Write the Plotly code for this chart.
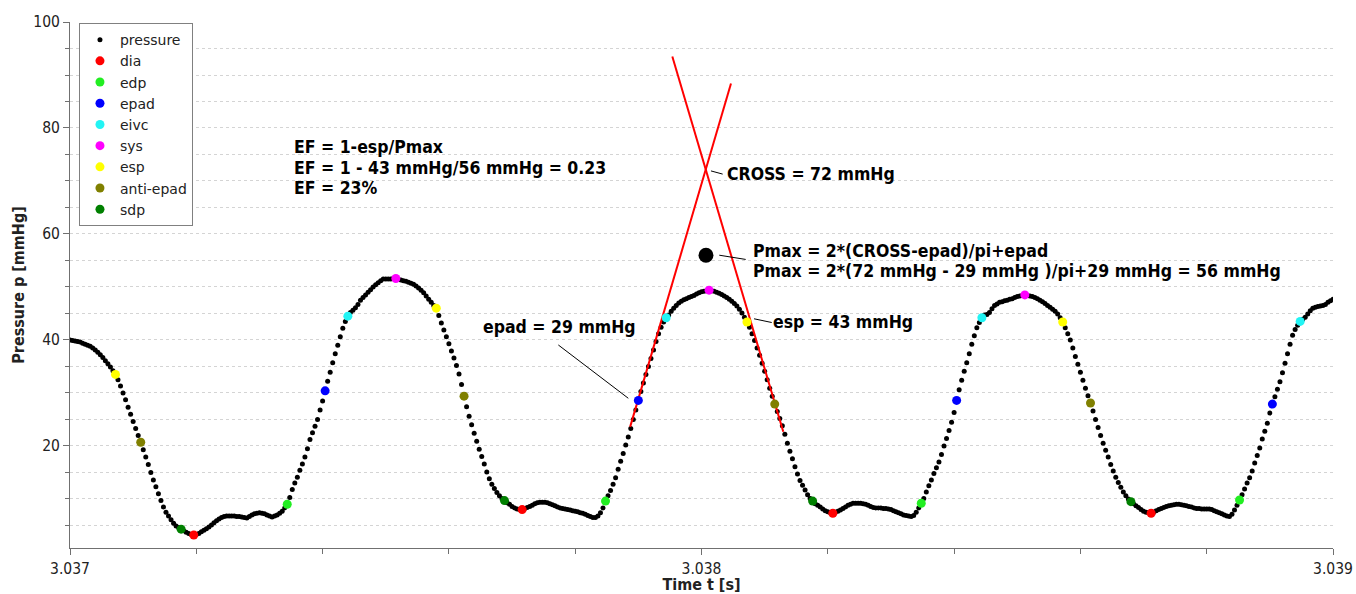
import numpy as np
import plotly.graph_objects as go

# ---------------- data ----------------
T0 = 3.037          # s, first sample
DT = 4e-6           # s, sampling interval

pressure = [
    40.0, 39.9, 39.8, 39.7, 39.6, 39.4, 39.2, 39.0, 38.8, 38.5,
    38.1, 37.7, 37.2, 36.7, 36.1, 35.5, 34.9, 34.2, 33.5, 32.5,
    31.3, 30.0, 28.7, 27.3, 26.0, 24.6, 23.3, 22.0, 20.7, 19.3,
    17.9, 16.5, 15.0, 13.6, 12.3, 11.0, 9.7, 8.5, 7.5, 6.8,
    6.1, 5.4, 4.9, 4.6, 4.3, 4.0, 3.7, 3.5, 3.3, 3.2,
    3.3, 3.5, 3.8, 4.1, 4.4, 4.7, 5.1, 5.5, 5.9, 6.2,
    6.5, 6.7, 6.8, 6.8, 6.8, 6.8, 6.7, 6.7, 6.6, 6.5,
    6.4, 6.7, 7.0, 7.2, 7.3, 7.4, 7.3, 7.2, 7.0, 6.8,
    6.6, 6.8, 7.0, 7.3, 7.7, 8.3, 9.0, 10.3, 11.8, 13.0,
    14.1, 15.4, 16.6, 17.9, 19.5, 21.2, 22.5, 23.7, 25.0, 26.8,
    28.5, 30.4, 32.2, 33.9, 35.7, 37.4, 39.0, 40.6, 42.2, 43.5,
    44.5, 45.2, 45.6, 46.1, 46.7, 47.5, 48.0, 48.5, 49.0, 49.5,
    50.0, 50.4, 50.8, 51.2, 51.5, 51.5, 51.5, 51.5, 51.6, 51.6,
    51.4, 51.3, 51.2, 51.1, 50.9, 50.7, 50.5, 50.2, 49.8, 49.4,
    48.9, 48.3, 47.7, 47.1, 46.5, 46.0, 44.6, 43.2, 41.9, 40.6,
    39.3, 37.9, 36.6, 35.2, 33.6, 31.6, 29.4, 27.4, 25.6, 24.0,
    22.4, 20.9, 19.4, 18.0, 16.6, 15.1, 13.8, 12.8, 12.0, 11.2,
    10.6, 10.1, 9.7, 9.3, 9.0, 8.6, 8.3, 8.1, 8.0, 8.0,
    8.2, 8.4, 8.6, 8.8, 9.1, 9.3, 9.4, 9.4, 9.4, 9.3,
    9.1, 8.9, 8.7, 8.5, 8.3, 8.2, 8.1, 8.0, 7.9, 7.8,
    7.7, 7.6, 7.4, 7.3, 7.1, 6.9, 6.7, 6.5, 6.5, 6.8,
    7.4, 8.3, 9.6, 10.6, 11.6, 12.8, 14.0, 15.6, 17.1, 18.6,
    20.2, 21.7, 23.3, 25.0, 26.8, 28.6, 30.3, 31.9, 33.5, 35.0,
    36.5, 38.1, 39.7, 41.2, 42.4, 43.4, 44.2, 44.7, 45.4, 46.0,
    46.5, 47.0, 47.3, 47.6, 47.8, 48.0, 48.2, 48.4, 48.7, 48.9,
    49.1, 49.2, 49.3, 49.4, 49.3, 49.2, 49.0, 48.8, 48.6, 48.3,
    48.0, 47.7, 47.3, 46.9, 46.4, 45.8, 45.1, 44.3, 43.4, 42.4,
    41.2, 39.9, 38.5, 37.1, 35.6, 34.1, 32.5, 30.9, 29.4, 27.9,
    26.5, 25.2, 23.8, 22.2, 20.5, 19.0, 17.6, 16.1, 14.7, 13.5,
    12.6, 11.7, 10.8, 10.1, 9.6, 9.1, 8.8, 8.5, 8.1, 7.8,
    7.6, 7.4, 7.3, 7.5, 7.7, 7.9, 8.2, 8.5, 8.8, 9.0,
    9.2, 9.2, 9.2, 9.2, 9.1, 9.0, 8.8, 8.6, 8.4, 8.3,
    8.3, 8.3, 8.2, 8.2, 8.1, 8.0, 7.8, 7.6, 7.4, 7.2,
    7.0, 6.9, 6.8, 6.7, 6.9, 7.5, 8.3, 9.2, 10.1, 11.3,
    12.5, 13.6, 14.8, 15.9, 17.0, 18.4, 20.0, 21.4, 22.9, 24.5,
    26.3, 28.6, 30.6, 32.4, 34.1, 35.7, 37.4, 39.2, 40.8, 42.3,
    43.3, 44.2, 44.7, 44.8, 45.2, 45.9, 46.5, 46.8, 47.1, 47.2,
    47.4, 47.5, 47.7, 47.8, 48.0, 48.2, 48.3, 48.4, 48.5, 48.4,
    48.3, 48.2, 48.0, 47.8, 47.5, 47.2, 46.9, 46.5, 46.2, 45.8,
    45.4, 44.9, 44.2, 43.4, 42.3, 41.2, 40.0, 38.5, 36.9, 35.4,
    33.9, 32.4, 30.9, 29.5, 28.1, 26.6, 25.0, 23.5, 22.0, 20.5,
    19.2, 17.9, 16.5, 15.3, 14.1, 13.1, 12.2, 11.3, 10.6, 10.0,
    9.5, 9.1, 8.7, 8.4, 8.0, 7.7, 7.5, 7.4, 7.3, 7.5,
    7.8, 8.0, 8.2, 8.4, 8.6, 8.7, 8.8, 8.9, 9.0, 9.0,
    8.9, 8.8, 8.7, 8.6, 8.5, 8.3, 8.2, 8.2, 8.1, 8.1,
    8.1, 8.1, 8.0, 7.8, 7.6, 7.4, 7.2, 7.0, 6.8, 6.7,
    7.1, 7.9, 8.8, 9.8, 10.8, 11.9, 13.0, 14.0, 15.3, 16.8,
    18.2, 19.6, 21.3, 22.8, 24.3, 26.2, 27.9, 29.3, 30.7, 32.1,
    33.8, 35.6, 37.4, 39.2, 40.9, 42.0, 42.8, 43.5, 43.9, 44.3,
    44.9, 45.5, 46.0, 46.2, 46.3, 46.4, 46.5, 46.7, 47.1, 47.4, 47.7,
]

# sample indices of the detected characteristic points
dia_idx = [49, 179, 302, 428]
edp_idx = [86, 212, 337, 463]
epad_idx = [101, 225, 351, 476]
eivc_idx = [110, 236, 361, 487]
sys_idx = [129, 253, 378]
esp_idx = [18, 145, 268, 393]
anti_epad_idx = [28, 156, 279, 404]
sdp_idx = [44, 172, 294, 420]

# tangent lines (through epad and anti-epad) and the computed Pmax point
tangent1_t = [3.0378870, 3.0380467]
tangent1_p = [23.6, 88.4]
tangent2_t = [3.0379538, 3.0381295]
tangent2_p = [93.5, 22.7]
pmax_t = [3.0380071]
pmax_p = [56.0]

x_ticks = [3.037, 3.038, 3.039]
y_ticks = [20, 40, 60, 80, 100]
y_major_grid = [20, 40, 60, 80]

# ---------------- figure ----------------
time = T0 + DT * np.arange(len(pressure))
p = np.array(pressure)

FONT = "DejaVu Sans Condensed, DejaVu Sans, sans-serif"
LEG_FONT = "DejaVu Sans, sans-serif"

fig = go.Figure()
fig.add_trace(go.Scatter(x=time, y=p, mode="markers", name="pressure",
                         marker=dict(color="black", size=5, line=dict(width=0))))
fig.add_trace(go.Scatter(x=tangent1_t, y=tangent1_p, mode="lines", showlegend=False,
                         line=dict(color="#ff0000", width=2)))
fig.add_trace(go.Scatter(x=tangent2_t, y=tangent2_p, mode="lines", showlegend=False,
                         line=dict(color="#ff0000", width=2)))

events = [
    ("dia", dia_idx, "#ff0000"),
    ("edp", edp_idx, "#22ee22"),
    ("epad", epad_idx, "#0000ff"),
    ("eivc", eivc_idx, "#22f4f4"),
    ("sys", sys_idx, "#ff00ff"),
    ("esp", esp_idx, "#ffff00"),
    ("anti-epad", anti_epad_idx, "#808000"),
    ("sdp", sdp_idx, "#008000"),
]
for name, idx, col in events:
    fig.add_trace(go.Scatter(x=time[idx], y=p[idx], mode="markers", name=name,
                             marker=dict(color=col, size=9, line=dict(width=0))))

fig.add_trace(go.Scatter(x=pmax_t, y=pmax_p, mode="markers", showlegend=False,
                         marker=dict(color="black", size=15)))

# annotations (text lines) and their leader lines
ann_font = dict(family=FONT, size=17.5, color="black")
texts = [
    ("EF = 1-esp/Pmax", 3.0373526, 76.5),
    ("EF = 1 - 43 mmHg/56 mmHg = 0.23", 3.0373526, 72.4),
    ("EF = 23%", 3.0373526, 68.6),
    ("CROSS = 72 mmHg", 3.0380388, 71.4),
    ("Pmax = 2*(CROSS-epad)/pi+epad", 3.0380792, 56.8),
    ("Pmax = 2*(72 mmHg - 29 mmHg )/pi+29 mmHg = 56 mmHg", 3.0380792, 53.0),
    ("esp = 43 mmHg", 3.0381116, 43.45),
    ("epad = 29 mmHg", 3.0376519, 42.45),
]
for txt, tx, ty in texts:
    fig.add_annotation(x=tx, y=ty, xref="x", yref="y", text="<b>" + txt + "</b>",
                       showarrow=False, xanchor="left", yanchor="middle",
                       borderpad=0, font=ann_font)

leaders = [
    (3.0380150, 71.9, 3.0380335, 71.3),
    (3.0380281, 56.0, 3.0380700, 55.2),
    (3.0380832, 44.0, 3.0381112, 43.3),
    (3.0377733, 39.06, 3.0378841, 29.0),
]
for x0, y0, x1, y1 in leaders:
    fig.add_shape(type="line", xref="x", yref="y", x0=x0, y0=y0, x1=x1, y1=y1,
                  line=dict(color="black", width=1))

tick_font = dict(family=FONT, size=15.5, color="#222222")
axis_col = "#707070"

fig.update_layout(
    width=1356, height=594,
    margin=dict(l=70, r=23, t=22, b=46),
    paper_bgcolor="white", plot_bgcolor="white",
    font=dict(family=FONT, color="#222222"),
    showlegend=True,
    legend=dict(x=0.0071, y=0.998, xanchor="left", yanchor="top",
                bgcolor="white", bordercolor="#808080", borderwidth=1,
                font=dict(family=LEG_FONT, size=14, color="#222222")),
    xaxis=dict(range=[3.037, 3.039], tickmode="array", tickvals=x_ticks,
               tickformat=".3f", ticks="outside", ticklen=6, tickcolor=axis_col,
               showline=True, linecolor=axis_col, linewidth=1, automargin=False,
               showgrid=False, zeroline=False, tickfont=tick_font,
               minor=dict(dtick=0.0002, tick0=3.037, ticks="outside", ticklen=5,
                          tickcolor=axis_col, showgrid=False),
               title=dict(text="<b>Time t [s]</b>", standoff=4,
                          font=dict(family=FONT, size=16, color="#222222"))),
    yaxis=dict(range=[0.75, 100], tickmode="array", tickvals=y_ticks,
               ticks="outside", ticklen=6, tickcolor=axis_col, automargin=False,
               showline=True, linecolor=axis_col, linewidth=1,
               showgrid=False, zeroline=False, tickfont=tick_font,
               minor=dict(dtick=5, tick0=0, ticks="outside", ticklen=4,
                          tickcolor=axis_col, showgrid=True, gridcolor="#d4d4d4",
                          griddash="dot", gridwidth=1),
               title=dict(text="<b>Pressure p [mmHg]</b>", standoff=4,
                          font=dict(family=FONT, size=16, color="#222222"))),
    yaxis2=dict(range=[0.75, 100], overlaying="y", side="left", anchor="x",
                tickmode="array", tickvals=y_major_grid, showticklabels=False,
                automargin=False,
                ticks="", showline=False, showgrid=True, gridcolor="#c8c8c8",
                gridwidth=1, zeroline=False),
)

fig.write_html("out.html", config={"displayModeBar": False},
               post_script="document.body.style.margin='0';document.body.style.overflow='hidden';")
